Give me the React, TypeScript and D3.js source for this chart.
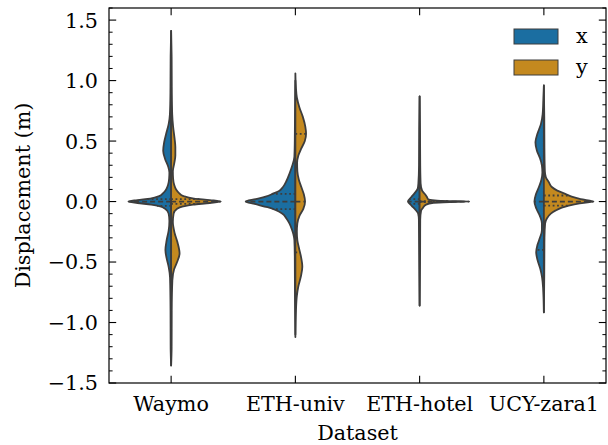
import React from "react";
import * as d3 from "d3";

const categories = ["Waymo", "ETH-univ", "ETH-hotel", "UCY-zara1"];
const hueLabels = ["x", "y"];
const hueColors = ["#1b6ea1", "#c4891f"];
const yMajorTicks = [-1.5, -1.0, -0.5, 0.0, 0.5, 1.0, 1.5];

// Density profiles: [displacement (m), relative density]
const waymoX: [number, number][] = [
  [1.41, 0], [1.2, 0.01], [0.9, 0.014], [0.72, 0.025], [0.64, 0.05], [0.56, 0.1], [0.49, 0.14],
  [0.42, 0.16], [0.35, 0.12], [0.29, 0.06], [0.24, 0.035], [0.19, 0.04], [0.14, 0.06],
  [0.1, 0.1], [0.07, 0.16], [0.045, 0.24], [0.025, 0.42], [0.012, 0.68], [0, 0.86],
  [-0.012, 0.68], [-0.025, 0.4], [-0.04, 0.22], [-0.06, 0.12], [-0.1, 0.05], [-0.16, 0.035],
  [-0.24, 0.05], [-0.32, 0.09], [-0.4, 0.115], [-0.47, 0.09], [-0.54, 0.05], [-0.63, 0.022],
  [-0.9, 0.012], [-1.2, 0.01], [-1.355, 0],
];
const waymoY: [number, number][] = [
  [1.41, 0], [1.2, 0.01], [0.9, 0.014], [0.72, 0.022], [0.62, 0.04], [0.52, 0.07], [0.45, 0.085],
  [0.38, 0.085], [0.31, 0.06], [0.25, 0.035], [0.19, 0.04], [0.14, 0.06], [0.1, 0.1],
  [0.07, 0.16], [0.045, 0.25], [0.025, 0.46], [0.012, 0.78], [0, 1.0], [-0.012, 0.78],
  [-0.025, 0.44], [-0.04, 0.24], [-0.06, 0.12], [-0.1, 0.05], [-0.17, 0.035], [-0.26, 0.07],
  [-0.34, 0.13], [-0.43, 0.17], [-0.5, 0.12], [-0.56, 0.06], [-0.65, 0.025], [-0.9, 0.012],
  [-1.2, 0.01], [-1.355, 0],
];
const ethUnivX: [number, number][] = [
  [1.0, 0], [0.7, 0.008], [0.5, 0.012], [0.37, 0.02], [0.3, 0.06], [0.23, 0.12], [0.17, 0.18],
  [0.12, 0.25], [0.09, 0.32], [0.065, 0.45], [0.04, 0.6], [0.02, 0.8], [0, 1.0],
  [-0.02, 0.82], [-0.047, 0.56], [-0.07, 0.4], [-0.1, 0.26], [-0.14, 0.18], [-0.18, 0.12],
  [-0.23, 0.07], [-0.27, 0.04], [-0.32, 0.02], [-0.45, 0.012], [-0.8, 0.008], [-1.1, 0],
];
const ethUnivY: [number, number][] = [
  [1.06, 0], [0.95, 0.01], [0.86, 0.03], [0.78, 0.08], [0.7, 0.15], [0.62, 0.2], [0.56, 0.215],
  [0.5, 0.19], [0.44, 0.12], [0.38, 0.06], [0.32, 0.035], [0.25, 0.04], [0.18, 0.07],
  [0.12, 0.12], [0.06, 0.17], [0, 0.195], [-0.06, 0.16], [-0.12, 0.08], [-0.18, 0.04],
  [-0.25, 0.03], [-0.32, 0.04], [-0.38, 0.07], [-0.45, 0.11], [-0.54, 0.14], [-0.62, 0.11],
  [-0.7, 0.06], [-0.78, 0.03], [-0.9, 0.012], [-1.12, 0],
];
const ethHotelX: [number, number][] = [
  [0.87, 0], [0.6, 0.008], [0.3, 0.012], [0.15, 0.025], [0.105, 0.04], [0.07, 0.1],
  [0.035, 0.17], [0, 0.235], [-0.035, 0.16], [-0.07, 0.08], [-0.1, 0.03], [-0.15, 0.015],
  [-0.4, 0.01], [-0.86, 0],
];
const ethHotelY: [number, number][] = [
  [0.87, 0], [0.6, 0.008], [0.3, 0.012], [0.15, 0.02], [0.09, 0.05], [0.06, 0.11],
  [0.035, 0.15], [0.02, 0.17], [0.01, 0.3], [0.004, 0.6], [0, 1.0], [-0.004, 0.6],
  [-0.01, 0.28], [-0.025, 0.13], [-0.05, 0.07], [-0.075, 0.03], [-0.15, 0.012],
  [-0.4, 0.01], [-0.86, 0],
];
const ucyX: [number, number][] = [
  [0.96, 0], [0.85, 0.01], [0.72, 0.025], [0.64, 0.06], [0.56, 0.13], [0.49, 0.17],
  [0.42, 0.14], [0.36, 0.08], [0.3, 0.04], [0.24, 0.03], [0.18, 0.05], [0.12, 0.1],
  [0.06, 0.16], [0, 0.19], [-0.06, 0.15], [-0.12, 0.08], [-0.18, 0.04], [-0.24, 0.04],
  [-0.3, 0.08], [-0.36, 0.13], [-0.42, 0.155], [-0.48, 0.13], [-0.56, 0.07], [-0.63, 0.035],
  [-0.72, 0.015], [-0.915, 0],
];
const ucyY: [number, number][] = [
  [0.96, 0], [0.7, 0.008], [0.4, 0.012], [0.25, 0.02], [0.2, 0.04], [0.16, 0.1],
  [0.12, 0.16], [0.09, 0.27], [0.063, 0.43], [0.04, 0.56], [0.02, 0.74], [0, 1.0],
  [-0.015, 0.72], [-0.033, 0.5], [-0.05, 0.36], [-0.075, 0.23], [-0.1, 0.14], [-0.14, 0.06],
  [-0.18, 0.025], [-0.3, 0.012], [-0.6, 0.008], [-0.915, 0],
];

const profilesX = [waymoX, ethUnivX, ethHotelX, ucyX];
const profilesY = [waymoY, ethUnivY, ethHotelY, ucyY];

// Quartiles [Q1, median, Q3]
const quartilesX = [[-0.035, 0, 0.02], [-0.062, 0, 0.063], [-0.02, 0, 0.02], [-0.4, 0, 0.3]];
const quartilesY = [[-0.02, 0, 0.02], [-0.42, 0, 0.56], [-0.004, 0, 0.004], [-0.033, 0, 0.05]];

const W = 608;
const H = 445;
const margin = { left: 109, right: 2, top: 8, bottom: 62 };
const FONT = "'DejaVu Serif', serif";
const FS = 20.7;
const EDGE = "#3d3d3d";

function densityAt(profile: [number, number][], v: number): number {
  for (let i = 0; i < profile.length - 1; i++) {
    const [a, da] = profile[i];
    const [b, db] = profile[i + 1];
    if (v <= a && v >= b) {
      const t = a === b ? 0 : (a - v) / (a - b);
      return da + (db - da) * t;
    }
  }
  return 0;
}

export default function App() {
  const x = d3
    .scaleBand<string>()
    .domain(categories)
    .range([margin.left, W - margin.right])
    .padding(0);
  const y = d3.scaleLinear().domain([-1.5, 1.6]).range([H - margin.bottom, margin.top]);
  const halfW = x.bandwidth() * 0.4;
  const w = d3.scaleLinear().domain([0, 1]).range([0, halfW]);

  const fmt = (v: number) => d3.format(".1f")(v).replace("-", "\u2212");
  const minorTicks = d3
    .range(-15, 17)
    .map((k) => k / 10)
    .filter((v) => Math.abs(Math.round(v * 2) - v * 2) > 1e-6);

  const left = margin.left;
  const right = W - margin.right;
  const top = margin.top;
  const bottom = H - margin.bottom;
  const majorLen = 7.2;
  const minorLen = 3.6;

  const violins: React.ReactNode[] = [];
  const inner: React.ReactNode[] = [];
  categories.forEach((c, i) => {
    const cx = (x(c) as number) + x.bandwidth() / 2;
    [profilesX[i], profilesY[i]].forEach((prof, h) => {
      const sign = h === 0 ? -1 : 1;
      const area = d3
        .area<[number, number]>()
        .curve(d3.curveMonotoneY)
        .y((d) => y(d[0]))
        .x0(cx)
        .x1((d) => cx + sign * w(d[1]));
      violins.push(
        <path
          key={`v-${i}-${h}`}
          d={area(prof) as string}
          fill={hueColors[h]}
          stroke={EDGE}
          strokeWidth={1.8}
          strokeLinejoin="round"
        />
      );
      const qs = h === 0 ? quartilesX[i] : quartilesY[i];
      qs.forEach((q, k) => {
        const dw = w(densityAt(prof, q));
        inner.push(
          <line
            key={`q-${i}-${h}-${k}`}
            x1={cx}
            x2={cx + sign * dw}
            y1={y(q)}
            y2={y(q)}
            stroke={EDGE}
            strokeWidth={1.8}
            strokeDasharray={k === 1 ? "5,3" : "1.8,2.6"}
          />
        );
      });
    });
  });

  return (
    <svg width={W} height={H} style={{ display: "block", position: "absolute", left: 0, top: 0 }}>
      <rect x={0} y={0} width={W} height={H} fill="#ffffff" />
      {violins}
      {inner}
      {yMajorTicks.map((v) => (
        <g key={`ym-${v}`}>
          <line x1={left} x2={left + majorLen} y1={y(v)} y2={y(v)} stroke="#000" strokeWidth={1.1} />
          <line x1={right} x2={right - majorLen} y1={y(v)} y2={y(v)} stroke="#000" strokeWidth={1.1} />
          <text
            x={left - 11}
            y={y(v)}
            dy="0.36em"
            textAnchor="end"
            fontFamily={FONT}
            fontSize={FS}
            fill="#000"
          >
            {fmt(v)}
          </text>
        </g>
      ))}
      {minorTicks.map((v) => (
        <g key={`yn-${v}`}>
          <line x1={left} x2={left + minorLen} y1={y(v)} y2={y(v)} stroke="#000" strokeWidth={1} />
          <line x1={right} x2={right - minorLen} y1={y(v)} y2={y(v)} stroke="#000" strokeWidth={1} />
        </g>
      ))}
      {categories.map((c) => {
        const cx = (x(c) as number) + x.bandwidth() / 2;
        return (
          <g key={`xt-${c}`}>
            <line x1={cx} x2={cx} y1={bottom} y2={bottom - majorLen} stroke="#000" strokeWidth={1.1} />
            <line x1={cx} x2={cx} y1={top} y2={top + majorLen} stroke="#000" strokeWidth={1.1} />
            <text
              x={cx}
              y={bottom + 28}
              textAnchor="middle"
              fontFamily={FONT}
              fontSize={FS}
              fill="#000"
            >
              {c}
            </text>
          </g>
        );
      })}
      <rect x={left} y={top} width={right - left} height={bottom - top} fill="none" stroke="#000" strokeWidth={1.2} />
      <text
        x={(left + right) / 2}
        y={H - 5}
        textAnchor="middle"
        fontFamily={FONT}
        fontSize={FS}
        fill="#000"
      >
        Dataset
      </text>
      <text
        transform={`translate(30, ${(top + bottom) / 2}) rotate(-90)`}
        textAnchor="middle"
        fontFamily={FONT}
        fontSize={FS}
        fill="#000"
      >
        Displacement (m)
      </text>
      {hueLabels.map((lab, h) => (
        <g key={`lg-${lab}`} transform={`translate(514, ${29 + h * 31})`}>
          <rect x={0} y={0} width={44} height={15} fill={hueColors[h]} stroke={EDGE} strokeWidth={1} />
          <text x={62} y={7.5} dy="0.32em" fontFamily={FONT} fontSize={FS} fill="#000">
            {lab}
          </text>
        </g>
      ))}
    </svg>
  );
}
